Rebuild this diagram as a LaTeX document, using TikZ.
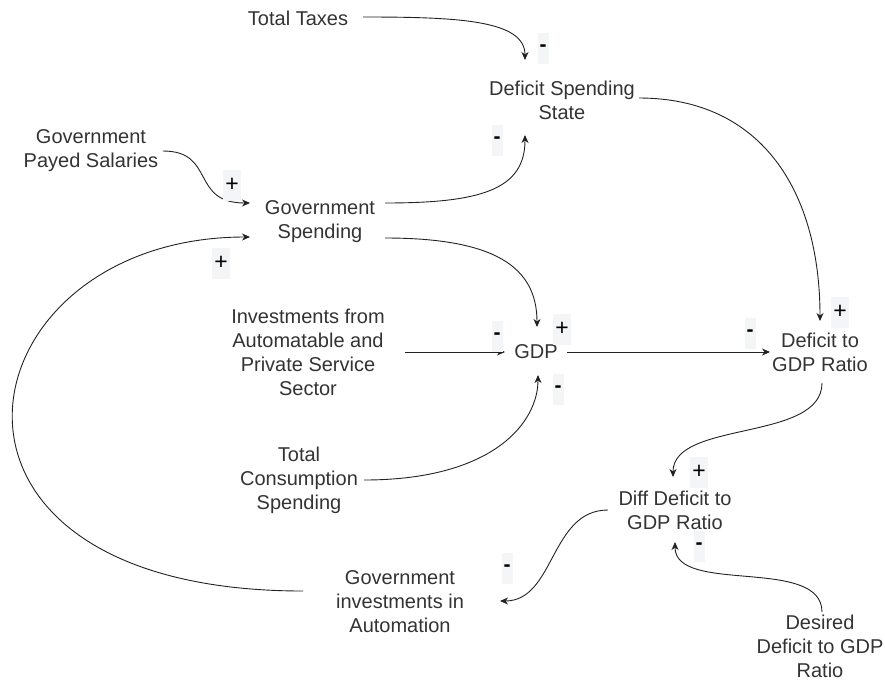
\documentclass[tikz,border=0pt]{standalone}
\usepackage{fontspec}
\setmainfont{Liberation Sans}
\usetikzlibrary{arrows.meta,calc}
\definecolor{txt}{HTML}{333333}
\definecolor{lblbg}{HTML}{F3F5F7}
\definecolor{edge}{HTML}{222222}
\begin{document}
\begin{tikzpicture}[x=1pt,y=-1pt,
  font=\fontsize{20}{24}\selectfont,
  var/.style={text=txt, align=center, inner sep=1pt},
  pol/.style={fill=lblbg, text=black, font=\fontsize{21}{24}\selectfont\bfseries,
    inner xsep=2pt, inner ysep=0pt, minimum height=31pt},
  plus/.style={pol, font=\fontsize{23}{24}\selectfont},
  lnk/.style={-{Stealth[length=8pt,width=7pt,inset=2.5pt]}, draw=edge, line width=0.9pt}]
\useasboundingbox (0,0) rectangle (885,683);

% variables
\node[var] (tt)  at (298,18)  {Total Taxes};
\node[var] (dss) at (562,100) {Deficit Spending\\State};
\node[var] (gps) at (91,151)  {Government\\Payed Salaries};
\node[var] (gs)  at (320,222) {Government\\Spending};
\node[var] (inv) at (308,352) {Investments from\\Automatable and\\Private Service\\Sector};
\node[var] (gdp) at (536,352) {GDP};
\node[var] (dgr) at (820,352) {Deficit to\\GDP Ratio};
\node[var] (tcs) at (299,480) {Total\\Consumption\\Spending};
\node[var] (diff) at (675,510) {Diff Deficit to\\GDP Ratio};
\node[var] (gia) at (400,602) {Government\\investments in\\Automation};
\node[var] (des) at (820,646) {Desired\\Deficit to GDP\\Ratio};

% connectors
\draw[lnk] ($(tt)+(65,-1)$) .. controls ($(tt)+(160,-1)$) and ($(dss)+(-37,-80)$) .. ($(dss)+(-37,-40)$);
\draw[lnk] ($(gs)+(65,-19)$) .. controls ($(gs)+(160,-19)$) and ($(dss)+(-37,90)$) .. ($(dss)+(-37,35)$);
\draw[lnk] ($(gps)+(72,0)$) .. controls ($(gps)+(125,0)$) and ($(gs)+(-130,-19)$) .. ($(gs)+(-70,-19)$);
\draw[lnk] ($(gs)+(65,16)$) .. controls ($(gs)+(175,16)$) and ($(gdp)+(1,-85)$) .. ($(gdp)+(1,-25)$);
\draw[lnk] ($(inv)+(97,0)$) -- ($(gdp)+(-31,0)$);
\draw[lnk] ($(gdp)+(31,0)$) -- ($(dgr)+(-50,0)$);
\draw[lnk] ($(dss)+(77,-2)$) .. controls ($(dss)+(200,-2)$) and ($(dgr)+(0,-160)$) .. ($(dgr)+(0,-31)$);
\draw[lnk] ($(tcs)+(65,0)$) .. controls ($(tcs)+(195,0)$) and ($(gdp)+(2,70)$) .. ($(gdp)+(2,23)$);
\draw[lnk] ($(dgr)+(2,31)$) .. controls ($(dgr)+(2,90)$) and ($(diff)+(-2,-90)$) .. ($(diff)+(-2,-33)$);
\draw[lnk] ($(des)+(2,-34)$) .. controls ($(des)+(2,-90)$) and ($(diff)+(0,85)$) .. ($(diff)+(0,32)$);
\draw[lnk] ($(diff)+(-67,0)$) .. controls ($(diff)+(-125,0)$) and ($(gia)+(155,-1)$) .. ($(gia)+(100,-1)$);
\draw[lnk] ($(gia)+(-97,-11)$) .. controls ($(gia)+(-510,-11)$) and ($(gs)+(-360,15)$) .. ($(gs)+(-70,15)$);

% polarity labels
\node[pol]  (p1)  at (543,48)  {-};
\node[pol]  (p2)  at (497,140) {-};
\node[plus] (p3)  at (232,185) {+};
\node[plus] (p4)  at (562,329) {+};
\node[pol]  (p5)  at (497,336) {-};
\node[pol]  (p6)  at (750,333) {-};
\node[plus] (p7)  at (840,312) {+};
\node[pol]  (p8)  at (558,389) {-};
\node[plus] (p9)  at (699,472) {+};
\node[pol]  (p10) at (699,546) {-};
\node[pol]  (p11) at (507,568) {-};
\node[plus] (p12) at (221,263) {+};
\end{tikzpicture}
\end{document}
